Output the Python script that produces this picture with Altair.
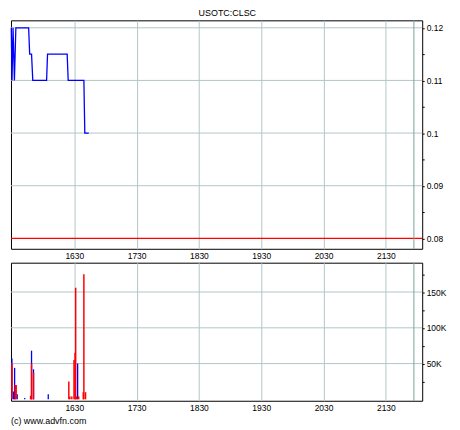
import altair as alt
import pandas as pd

# ---- data (times are minutes after midnight, volume in thousands) ----
price_time = [929.3, 930.0, 931.0, 932.3, 933.7, 946.0, 947.0, 948.8, 950.0,
              963.3, 964.2, 983.1, 984.1, 999.2, 1000.1, 1003.9]
price_value = [0.12, 0.11, 0.12, 0.11, 0.12, 0.12, 0.115, 0.115, 0.11,
               0.11, 0.115, 0.115, 0.11, 0.11, 0.10, 0.10]

vol_time = [929.9, 929.9, 931.5, 932.5, 933.1, 934.0, 935.0, 942.2, 947.9,
            948.8, 948.8, 950.7, 950.7, 964.9, 984.7, 985.7, 987.6, 989.7,
            990.7, 991.3, 992.3, 993.2, 994.2, 998.6, 999.2, 1000.8]
vol_value = [57, 50, 11, 44, 20, 20, 7, 2, 5,
             68, 50, 42, 37, 7, 25, 4, 4, 55,
             65, 156, 4, 50, 4, 10, 175, 10]
vol_dir = ["up", "down", "up", "up", "down", "down", "up", "up", "down",
           "up", "down", "up", "down", "up", "down", "down", "down", "down",
           "down", "down", "down", "up", "down", "down", "down", "down"]

prev_close = [0.08]
session_end = [1317]
x_domain = [929, 1325]
x_ticks = [990, 1050, 1110, 1170, 1230, 1290]
price_domain = [0.0780189, 0.1214151]
price_ticks = [0.08, 0.085, 0.09, 0.095, 0.10, 0.105, 0.11, 0.115, 0.12]
price_grid = [0.09, 0.10, 0.11, 0.12]
vol_domain = [-2, 191]
vol_ticks = [25, 50, 75, 100, 125, 150, 175]
vol_grid = [50, 100, 150]
title_text = "USOTC:CLSC"
credit_text = ["(c) www.advfn.com"]

FONT = "Liberation Sans"
GRID = "#b2c6c6"
W = 414

xscale = alt.Scale(domain=x_domain, nice=False, zero=False)
x_axis = alt.Axis(values=x_ticks, tickCount=20, grid=True, gridColor=GRID, gridWidth=1,
                  ticks=False, domain=False, labelPadding=3, labelFont=FONT,
                  labelFontSize=8.5, labelColor="black", title=None, labelOverlap=False,
                  labelExpr="'' + (floor(datum.value / 60) * 100 + (datum.value - floor(datum.value / 60) * 60))")

# ---- price panel ----
pscale = alt.Scale(domain=price_domain, nice=False, zero=False)
p_axis = alt.Axis(orient="right", values=price_ticks, tickCount=20, grid=False, domain=False,
                  tickSize=2, tickColor="black", labelPadding=2, labelFont=FONT,
                  labelFontSize=8.5, labelColor="black", title=None, labelOverlap=False,
                  labelExpr="abs(datum.value * 100 - round(datum.value * 100)) < 0.01 ? ('' + round(datum.value * 100) / 100) : ''")

pdf = pd.DataFrame({"t": price_time, "p": price_value})

p_grid = alt.Chart(pd.DataFrame({"g": price_grid})).mark_rule(color=GRID, strokeWidth=1).encode(
    y=alt.Y("g:Q", scale=pscale, axis=p_axis))
p_close = alt.Chart(pd.DataFrame({"c": prev_close})).mark_rule(color="#ff0000", strokeWidth=1.2).encode(
    y=alt.Y("c:Q", scale=pscale))
p_end = alt.Chart(pd.DataFrame({"e": session_end})).mark_rule(color="#7f9f9f", strokeWidth=1).encode(
    x=alt.X("e:Q", scale=xscale, axis=x_axis))
p_line = alt.Chart(pdf).mark_line(color="#0000ff", strokeWidth=1.3).encode(
    x=alt.X("t:Q", scale=xscale),
    y=alt.Y("p:Q", scale=pscale),
)

top = alt.layer(p_grid, p_close, p_end, p_line).properties(width=W, height=230)

# ---- volume panel ----
vscale = alt.Scale(domain=vol_domain, nice=False, zero=False)
v_axis = alt.Axis(orient="right", values=vol_ticks, tickCount=20, grid=False, domain=False,
                  tickSize=2, tickColor="black", labelPadding=2, labelFont=FONT,
                  labelFontSize=8.5, labelColor="black", title=None, labelOverlap=False,
                  labelExpr="abs(datum.value / 50 - round(datum.value / 50)) < 0.01 ? ('' + round(datum.value) + 'K') : ''")

vdf = pd.DataFrame({"t": vol_time, "v": vol_value, "d": vol_dir, "z": [0] * len(vol_time)})

v_grid = alt.Chart(pd.DataFrame({"g": vol_grid})).mark_rule(color=GRID, strokeWidth=1).encode(
    y=alt.Y("g:Q", scale=vscale, axis=v_axis))
v_end = alt.Chart(pd.DataFrame({"e": session_end})).mark_rule(color="#7f9f9f", strokeWidth=1).encode(
    x=alt.X("e:Q", scale=xscale, axis=x_axis))
v_up = alt.Chart(vdf).transform_filter("datum.d == 'up'").mark_rule(color="#0000ff", strokeWidth=1.3).encode(
    x=alt.X("t:Q", scale=xscale),
    y=alt.Y("v:Q", scale=vscale), y2="z:Q")
v_dn = alt.Chart(vdf).transform_filter("datum.d == 'down'").mark_rule(color="#ff0000", strokeWidth=1.5).encode(
    x=alt.X("t:Q", scale=xscale),
    y=alt.Y("v:Q", scale=vscale), y2="z:Q")
credit = alt.Chart(pd.DataFrame({"s": credit_text})).mark_text(
    align="left", baseline="middle", font=FONT, fontSize=9, color="black").encode(
    x=alt.value(0), y=alt.value(159), text="s:N")

bottom = alt.layer(v_grid, v_end, v_up, v_dn, credit).properties(width=W, height=139)

chart = alt.vconcat(top, bottom, spacing=1).properties(
    title=alt.TitleParams(title_text, font=FONT, fontSize=9, fontWeight="normal",
                          anchor="middle", offset=1, color="black"),
    padding={"left": 0, "top": 0, "right": 5, "bottom": 0},
).configure_view(stroke="black", strokeWidth=1)

chart.save("out.html", embed_options={"renderer": "svg", "actions": False})
